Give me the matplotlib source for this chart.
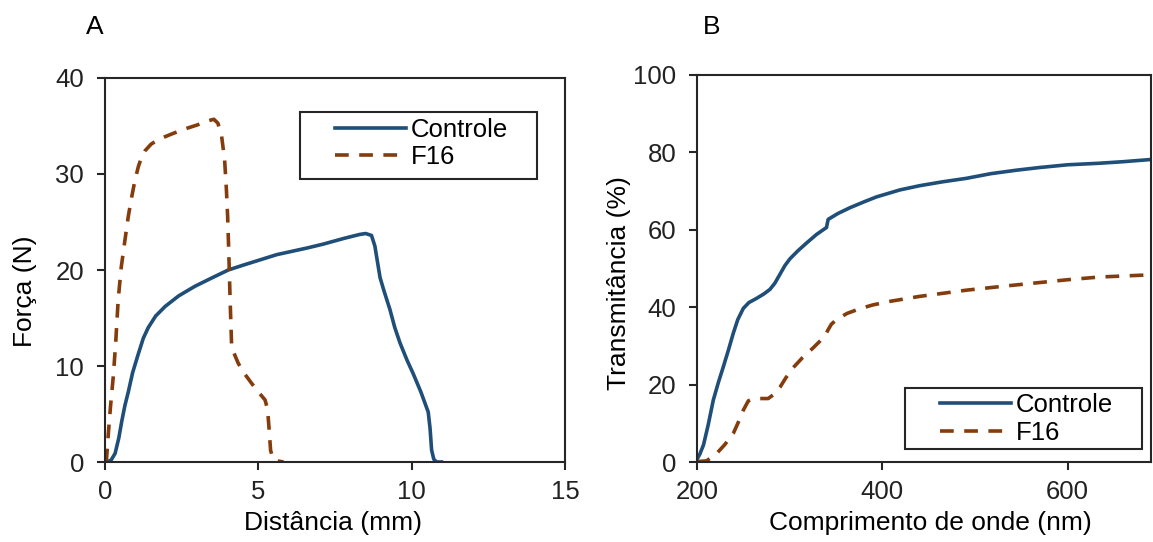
import matplotlib
matplotlib.use("Agg")
import matplotlib.pyplot as plt
from matplotlib.patches import Rectangle

plt.rcParams['font.family'] = ['Liberation Sans', 'DejaVu Sans']

# Panel A: force (N) vs distance (mm)
ctrl_a_x = [0.0, 0.1, 0.2, 0.33, 0.45, 0.55, 0.65, 0.76, 0.9, 1.09, 1.25, 1.41, 1.65, 1.96, 2.4, 2.93, 3.5, 4.02, 4.5, 5.1, 5.6, 6.03, 6.6, 7.12, 7.8, 8.3, 8.5, 8.69, 8.8, 8.97, 9.1, 9.29, 9.45, 9.62, 9.85, 10.05, 10.3, 10.54, 10.6, 10.65, 10.72, 10.81, 10.97]
ctrl_a_y = [0.0, 0.05, 0.2, 0.9, 2.5, 4.3, 5.9, 7.3, 9.3, 11.3, 12.9, 14.0, 15.2, 16.2, 17.3, 18.3, 19.2, 20.0, 20.5, 21.1, 21.6, 21.9, 22.3, 22.7, 23.3, 23.7, 23.8, 23.6, 22.5, 19.2, 17.8, 15.9, 14.0, 12.4, 10.6, 9.2, 7.3, 5.2, 3.5, 1.25, 0.3, 0.0, 0.0]
f16_a_x = [0.0, 0.05, 0.11, 0.18, 0.27, 0.35, 0.43, 0.53, 0.65, 0.76, 0.87, 0.98, 1.09, 1.2, 1.3, 1.5, 1.74, 2.2, 2.61, 3.0, 3.37, 3.55, 3.68, 3.8, 3.9, 3.96, 4.0, 4.03, 4.08, 4.13, 4.25, 4.35, 4.55, 4.78, 5.0, 5.22, 5.3, 5.35, 5.4, 5.49, 5.65, 5.82]
f16_a_y = [0.0, 0.3, 3.0, 5.8, 8.9, 12.5, 16.9, 20.3, 23.1, 25.6, 27.6, 29.4, 30.8, 31.8, 32.4, 33.1, 33.6, 34.2, 34.7, 35.1, 35.55, 35.7, 35.3, 34.0, 31.5, 28.3, 25.5, 22.5, 16.9, 12.0, 11.0, 10.25, 9.2, 8.2, 7.3, 6.46, 5.5, 3.5, 1.2, 0.28, 0.1, 0.0]

# Panel B: transmittance (%) vs wavelength (nm)
ctrl_b_x = [199.6, 203, 207, 212, 217.6, 223, 228.4, 234, 239.2, 244, 250, 256, 264.4, 272, 278.7, 284, 289.5, 295, 300.3, 309, 318.3, 329, 339.8, 340.5, 341.6, 352, 365, 380, 393.7, 418.9, 440.4, 465, 490.8, 517, 544.7, 570, 600, 634.5, 660, 691.7]
ctrl_b_y = [0.5, 2.0, 4.4, 9.5, 16.0, 20.5, 24.6, 29.0, 33.3, 36.8, 39.7, 41.2, 42.3, 43.4, 44.6, 46.2, 48.5, 50.8, 52.5, 54.6, 56.6, 58.8, 60.6, 61.5, 62.7, 64.2, 65.7, 67.2, 68.5, 70.3, 71.4, 72.4, 73.3, 74.5, 75.4, 76.1, 76.8, 77.2, 77.6, 78.2]
f16_b_x = [199.6, 210.4, 221.2, 230, 239.2, 245, 250, 255.4, 260, 264.4, 276.9, 283, 289.5, 296, 303.9, 314, 325.4, 333, 338, 341.6, 345, 350.6, 362, 375.6, 390, 408, 440.4, 490.8, 530, 562.7, 600, 634.5, 683]
f16_b_y = [0.1, 0.3, 2.2, 4.5, 7.4, 10.5, 13.4, 15.8, 16.3, 16.4, 16.4, 17.5, 19.3, 21.8, 24.4, 27.0, 29.5, 31.3, 32.6, 34.2, 35.6, 36.8, 38.4, 39.6, 40.6, 41.5, 42.8, 44.4, 45.4, 46.2, 47.1, 47.8, 48.3]

series_labels = ['Controle', 'F16']

blue = '#1f4e79'
brown = '#843c0c'
axis_col = '#262626'
fs_tick = 18.5
fs_lab = 19
fs_leg = 18.5
lw = 2.6
dash = (0, (3.8, 2.9))

W, H = 1153, 542
fig = plt.figure(figsize=(W / 100, H / 100), dpi=100)
axA = fig.add_axes([105 / W, 1 - 462 / H, (565 - 105) / W, (462 - 78) / H])
axB = fig.add_axes([697 / W, 1 - 462 / H, (1151 - 697) / W, (462 - 75) / H])

axA.plot(ctrl_a_x, ctrl_a_y, color=blue, lw=lw, label=series_labels[0])
axA.plot(f16_a_x, f16_a_y, color=brown, lw=lw, linestyle=dash, label=series_labels[1])
axA.set_xlim(0, 15)
axA.set_ylim(0, 40)
axA.set_xticks([0, 5, 10, 15])
axA.set_yticks([0, 10, 20, 30, 40])
axA.set_xlabel('Distância (mm)', fontsize=fs_lab, va='center')
axA.set_ylabel('Força (N)', fontsize=fs_lab, va='center', ha='center')
axA.xaxis.set_label_coords((333 - 105) / 460, -(523 - 462) / 384)
axA.yaxis.set_label_coords((25 - 105) / 460, (462 - 291) / 384)

axB.plot(ctrl_b_x, ctrl_b_y, color=blue, lw=lw, label=series_labels[0])
axB.plot(f16_b_x, f16_b_y, color=brown, lw=lw, linestyle=dash, label=series_labels[1])
axB.set_xlim(200, 690)
axB.set_ylim(0, 100)
axB.set_xticks([200, 400, 600])
axB.set_yticks([0, 20, 40, 60, 80, 100])
axB.set_xlabel('Comprimento de onde (nm)', fontsize=fs_lab, va='center')
axB.set_ylabel('Transmitância (%)', fontsize=fs_lab, va='center', ha='center')
axB.xaxis.set_label_coords((930 - 697) / 454, -(523 - 462) / 387)
axB.yaxis.set_label_coords((619 - 697) / 454, (462 - 283) / 387)

for ax in (axA, axB):
    for s in ax.spines.values():
        s.set_linewidth(1.5)
        s.set_color(axis_col)
    ax.tick_params(axis='both', labelsize=fs_tick, direction='out', length=6, width=1.5,
                   color=axis_col, labelcolor='#222222')
    ax.tick_params(axis='y', pad=9)
    ax.tick_params(axis='x', pad=7)


def make_legend(ax, box, handle_x, row_mid_y):
    x0, y0, x1, y1 = box
    ax.add_patch(Rectangle((x0 / W, 1 - y1 / H), (x1 - x0) / W, (y1 - y0) / H,
                           transform=fig.transFigure, facecolor='white', edgecolor=axis_col,
                           lw=1.5, clip_on=False, zorder=4))
    leg = ax.legend(loc='center left', bbox_to_anchor=(handle_x / W, 1 - row_mid_y / H),
                    bbox_transform=fig.transFigure, fontsize=fs_leg, frameon=False,
                    handlelength=2.75, handletextpad=0.2, labelspacing=0.15,
                    borderpad=0, borderaxespad=0)
    leg.set_zorder(5)
    return leg


make_legend(axA, (300, 112, 537, 179), 335, 143.5)
make_legend(axB, (905, 388, 1142, 449), 940, 419)

fig.text(95 / W, 1 - 27 / H, 'A', fontsize=fs_lab, ha='center', va='center')
fig.text(712 / W, 1 - 27 / H, 'B', fontsize=fs_lab, ha='center', va='center')

fig.savefig('out.png', dpi=100)
